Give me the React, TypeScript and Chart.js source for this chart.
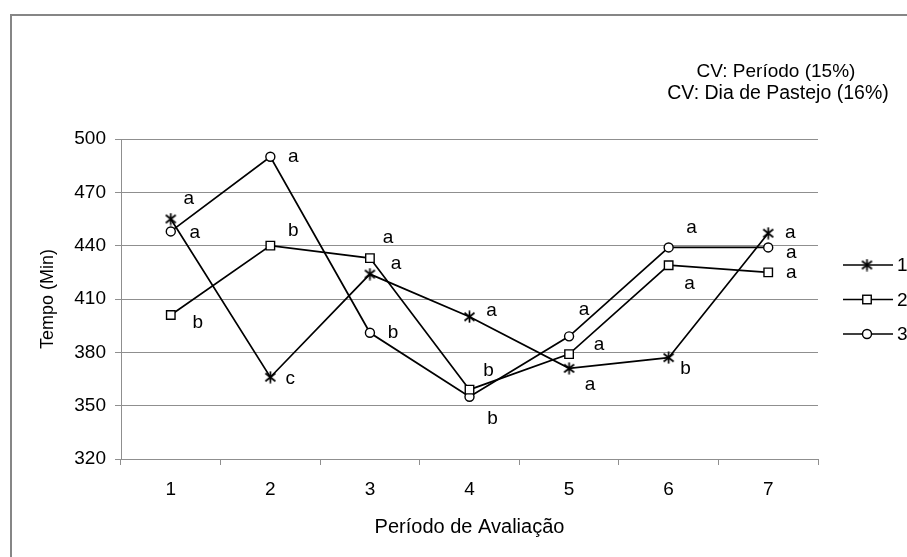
import React, { useEffect, useRef } from 'react';
import { Chart, registerables } from 'chart.js';

Chart.register(...registerables);

// ---- data ----
const CATEGORIES = ['1', '2', '3', '4', '5', '6', '7'];
const SERIES_NAMES = ['1', '2', '3'];
const SERIES_1 = [455, 366, 424, 400, 371, 377, 447];
const SERIES_2 = [401, 440, 433, 359, 379, 429, 425];
const SERIES_3 = [448, 490, 391, 355, 389, 439, 439];
const LETTERS_1 = ['a', 'c', 'a', 'a', 'a', 'b', 'a'];
const LETTERS_2 = ['b', 'b', 'a', 'b', 'a', 'a', 'a'];
const LETTERS_3 = ['a', 'a', 'b', 'b', 'a', 'a', 'a'];
const Y_TICKS = [320, 350, 380, 410, 440, 470, 500];
const CV_LINES = ['CV: Período (15%)', 'CV: Dia de Pastejo (16%)'];
const X_TITLE = 'Período de Avaliação';
const Y_TITLE = 'Tempo (Min)';

// ---- letter label placement (pixel offsets from each point) ----
const OFFSETS_1 = [[18, -20], [20, 2], [26, -10], [22, -6], [21, 16], [17, 11], [22, 0]];
const OFFSETS_2 = [[27, 8], [23, -15], [18, -20], [19, -19], [30, -9], [21, 19], [23, 0]];
const OFFSETS_3 = [[24, 1], [23, 0], [23, 0], [23, 22], [15, -27], [23, -20], [23, 5]];

const FONT = "'Liberation Sans', Arial, sans-serif";
const GRID = '#8f8f8f';

function makeAsterisk(): HTMLCanvasElement {
  const c = document.createElement('canvas');
  c.width = 13;
  c.height = 13;
  const g = c.getContext('2d')!;
  g.strokeStyle = '#000';
  g.lineWidth = 1.7;
  g.beginPath();
  g.moveTo(6.5, 0.5);
  g.lineTo(6.5, 12.5);
  g.moveTo(1.5, 2.5);
  g.lineTo(11.5, 10.5);
  g.moveTo(1.5, 10.5);
  g.lineTo(11.5, 2.5);
  g.stroke();
  return c;
}

export default function App() {
  const ref = useRef<HTMLCanvasElement | null>(null);

  useEffect(() => {
    const canvas = ref.current;
    if (!canvas) return;
    const asterisk = makeAsterisk();
    const letters = [LETTERS_1, LETTERS_2, LETTERS_3];
    const offsets = [OFFSETS_1, OFFSETS_2, OFFSETS_3];

    const drawMarker = (ctx: CanvasRenderingContext2D, i: number, x: number, y: number) => {
      ctx.save();
      ctx.lineWidth = 1.4;
      ctx.strokeStyle = '#000';
      ctx.fillStyle = '#fff';
      if (i === 0) {
        ctx.drawImage(asterisk, x - 6.5, y - 6.5);
      } else if (i === 1) {
        ctx.fillRect(x - 4.25, y - 4.25, 8.5, 8.5);
        ctx.strokeRect(x - 4.25, y - 4.25, 8.5, 8.5);
      } else {
        ctx.beginPath();
        ctx.arc(x, y, 4.5, 0, Math.PI * 2);
        ctx.fill();
        ctx.stroke();
      }
      ctx.restore();
    };

    const annot = {
      id: 'annot',
      beforeDraw(chart: any) {
        const ctx = chart.ctx as CanvasRenderingContext2D;
        ctx.save();
        ctx.fillStyle = '#fff';
        ctx.fillRect(0, 0, chart.width, chart.height);
        ctx.strokeStyle = '#868686';
        ctx.lineWidth = 2;
        ctx.strokeRect(11, 15, chart.width + 20, chart.height + 20);
        ctx.restore();
      },
      afterDatasetsDraw(chart: any) {
        const ctx = chart.ctx as CanvasRenderingContext2D;
        const area = chart.chartArea;
        ctx.save();
        ctx.fillStyle = '#000';
        ctx.font = `19px ${FONT}`;
        ctx.textAlign = 'center';
        ctx.textBaseline = 'middle';
        chart.data.datasets.forEach((_ds: any, i: number) => {
          const meta = chart.getDatasetMeta(i);
          meta.data.forEach((pt: any, j: number) => {
            const [dx, dy] = offsets[i][j];
            ctx.fillText(letters[i][j], pt.x + dx, pt.y + dy);
          });
        });
        // CV text
        ctx.textBaseline = 'alphabetic';
        ctx.fillText(CV_LINES[0], area.right - 42, area.top - 62);
        ctx.font = `19.5px ${FONT}`;
        ctx.fillText(CV_LINES[1], area.right - 40, area.top - 40);
        ctx.font = `19px ${FONT}`;
        // legend
        ctx.textAlign = 'left';
        ctx.textBaseline = 'middle';
        SERIES_NAMES.forEach((name, i) => {
          const y = 265 + i * 34.5;
          const x0 = area.right + 25;
          ctx.strokeStyle = '#000';
          ctx.lineWidth = 1.7;
          ctx.beginPath();
          ctx.moveTo(x0, y);
          ctx.lineTo(x0 + 50, y);
          ctx.stroke();
          drawMarker(ctx, i, x0 + 24, y);
          ctx.fillStyle = '#000';
          ctx.fillText(name, x0 + 54, y + 1);
        });
        ctx.restore();
      },
    };

    const common = {
      borderColor: '#000',
      borderWidth: 1.7,
      pointBorderColor: '#000',
      pointBackgroundColor: '#fff',
      pointBorderWidth: 1.4,
      tension: 0,
      fill: false,
    };

    const chart = new Chart(canvas, {
      type: 'line',
      data: {
        labels: CATEGORIES,
        datasets: [
          { ...common, label: SERIES_NAMES[0], data: SERIES_1, pointStyle: asterisk as any, pointRadius: 6 },
          { ...common, label: SERIES_NAMES[1], data: SERIES_2, pointStyle: 'rect', pointRadius: 6 },
          { ...common, label: SERIES_NAMES[2], data: SERIES_3, pointStyle: 'circle', pointRadius: 4.5 },
        ],
      },
      options: {
        responsive: false,
        animation: false,
        devicePixelRatio: 1,
        layout: { padding: { top: 139, right: 89, left: 0, bottom: 0 } },
        plugins: {
          legend: { display: false },
          tooltip: { enabled: false },
          title: { display: false },
        },
        scales: {
          x: {
            type: 'category',
            offset: true,
            grid: { offset: true, drawOnChartArea: false, drawTicks: true, tickLength: 6, color: GRID },
            border: { color: GRID, width: 1 },
            ticks: { color: '#000', font: { family: FONT, size: 19 }, padding: 13, maxRotation: 0 },
            title: {
              display: true,
              text: X_TITLE,
              color: '#000',
              font: { family: FONT, size: 20 },
              padding: { top: 0, bottom: 18 },
            },
            afterFit: (s: any) => {
              s.height = 98;
            },
          },
          y: {
            min: Y_TICKS[0],
            max: Y_TICKS[Y_TICKS.length - 1],
            afterBuildTicks: (s: any) => {
              s.ticks = Y_TICKS.map((v) => ({ value: v }));
            },
            grid: { color: GRID, tickLength: 6, drawTicks: true },
            border: { color: GRID, width: 1 },
            ticks: { color: '#000', font: { family: FONT, size: 19 }, padding: 9 },
            title: {
              display: true,
              text: Y_TITLE,
              color: '#000',
              font: { family: FONT, size: 18 },
              padding: { top: 37, bottom: 0 },
            },
            afterFit: (s: any) => {
              s.width = 121;
            },
          },
        },
      },
      plugins: [annot],
    });
    return () => chart.destroy();
  }, []);

  return (
    <div style={{ position: 'fixed', left: 0, top: 0, width: 907, height: 557, background: '#fff' }}>
      <canvas ref={ref} width={907} height={557} style={{ display: 'block' }} />
    </div>
  );
}
